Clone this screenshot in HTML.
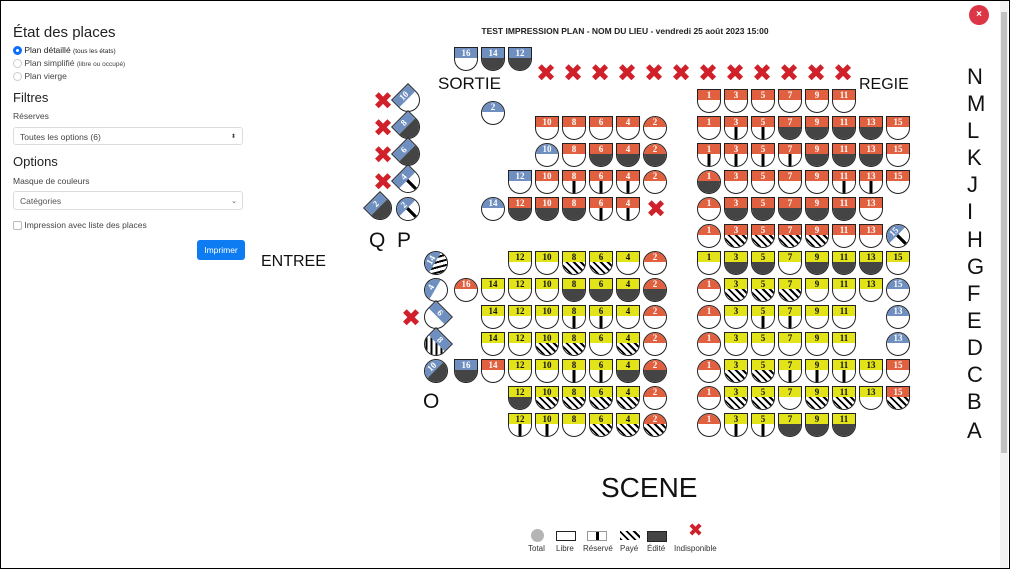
<!DOCTYPE html>
<html><head><meta charset="utf-8">
<style>
body{margin:0;width:1010px;height:569px;overflow:hidden;background:#fff;font-family:"Liberation Sans",sans-serif;position:relative}
#frame{position:absolute;left:0;top:0;width:1008px;height:567px;border:1px solid #000}
.a{position:absolute}
.seat{position:absolute;width:22px;height:22px;border:1.5px solid #222;border-radius:0 0 12px 12px;overflow:hidden;background:#fff;box-sizing:content-box}
.seat.c{border-radius:50%}
.band{position:absolute;left:0;top:0;width:100%;height:10px;color:#fff;font:bold 9px "Liberation Serif",serif;text-align:center;line-height:10px}
.low{position:absolute;left:0;top:10px;width:100%;height:12px}
.d{background:#444}
.h{background:repeating-linear-gradient(45deg,#000 0 2px,#fff 2px 5px)}
.v{background:linear-gradient(90deg,#fff 0 9.5px,#000 9.5px 12.5px,#fff 12.5px)}
.x{position:absolute;color:#d0202a;font:bold 24px "DejaVu Sans",sans-serif;line-height:24px}
.lbl{position:absolute;font-size:21px;color:#111}
.row{position:absolute;left:967px;font-size:22px;color:#111}
.side{position:absolute;left:13px;color:#222}
</style></head><body>
<div id="frame"></div>
<div class="side" style="top:24px;font-size:15px;font-weight:500">État des places</div>
<div class="side" style="top:45px;font-size:8.5px"><span style="display:inline-block;border-radius:50%;border:3px solid #0d6efd;background:#fff;vertical-align:middle;box-sizing:content-box;width:3px;height:3px"></span> Plan détaillé <span style="font-size:6.5px">(tous les états)</span></div>
<div class="side" style="top:58px;font-size:8.5px;color:#444"><span style="display:inline-block;width:7px;height:7px;border-radius:50%;border:1px solid #ccc;vertical-align:middle"></span> Plan simplifié <span style="font-size:6.5px">(libre ou occupé)</span></div>
<div class="side" style="top:71px;font-size:8.5px;color:#444"><span style="display:inline-block;width:7px;height:7px;border-radius:50%;border:1px solid #ccc;vertical-align:middle"></span> Plan vierge</div>
<div class="side" style="top:90px;font-size:13px;font-weight:500">Filtres</div>
<div class="side" style="top:111px;font-size:8.5px;color:#444">Réserves</div>
<div class="a" style="left:13px;top:127px;width:230px;height:18px;border:1px solid #dcdcdc;border-radius:3px;font-size:8.5px;color:#444;line-height:18px;padding-left:6px;box-sizing:border-box">Toutes les options (6)<span style="position:absolute;right:6px;font-size:6px">⬍</span></div>
<div class="side" style="top:154px;font-size:13px;font-weight:500">Options</div>
<div class="side" style="top:176px;font-size:8.5px;color:#444">Masque de couleurs</div>
<div class="a" style="left:13px;top:191px;width:230px;height:19px;border:1px solid #dcdcdc;border-radius:3px;font-size:8.5px;color:#555;line-height:19px;padding-left:6px;box-sizing:border-box">Catégories<span style="position:absolute;right:5px;font-size:7px">⌄</span></div>
<div class="side" style="top:220px;font-size:8.5px;color:#444"><span style="display:inline-block;width:7px;height:7px;border:1px solid #bbb;border-radius:2px;vertical-align:middle"></span> Impression avec liste des places</div>
<div class="a" style="left:197px;top:240px;width:48px;height:20px;background:#0d7bf2;border-radius:3px;color:#fff;font-size:8.5px;text-align:center;line-height:20px">Imprimer</div>

<div class="a" style="left:470px;top:26px;width:310px;text-align:center;font-size:8.5px;font-weight:bold;color:#222">TEST IMPRESSION PLAN - NOM DU LIEU - vendredi 25 août 2023 15:00</div>
<div class="a" style="left:969px;top:5px;width:20px;height:20px;border-radius:50%;background:#dc3545;color:#fff;font-size:10px;font-weight:bold;text-align:center;line-height:20px">×</div>
<div class="a" style="left:1000px;top:1px;width:8px;height:567px;background:#f1f1f1"></div>
<div class="a" style="left:1001px;top:12px;width:6px;height:441px;background:#c1c1c1"></div>

<div class="lbl" style="left:438px;top:74px;font-size:17px">SORTIE</div>
<div class="lbl" style="left:859px;top:76px;font-size:16px">REGIE</div>
<div class="lbl" style="left:261px;top:253px;font-size:16px">ENTREE</div>
<div class="lbl" style="left:369px;top:229px;font-size:21px">Q</div>
<div class="lbl" style="left:397px;top:229px;font-size:21px">P</div>
<div class="lbl" style="left:423px;top:390px;font-size:21px">O</div>
<div class="lbl" style="left:601px;top:472px;font-size:28px">SCENE</div>
<div id="rows"></div>
<div id="seats"></div>

<div class="a" style="left:531px;top:529px;width:13px;height:13px;border-radius:50%;background:#b5b5b5"></div>
<div class="a" style="left:556px;top:531px;width:18px;height:8px;border:1.5px solid #222"></div>
<div class="a" style="left:587px;top:531px;width:18px;height:8px;border:1px solid #999;background:linear-gradient(90deg,#fff 0 8px,#000 8px 11px,#fff 11px)"></div>
<div class="a" style="left:620px;top:531px;width:20px;height:9px;background:repeating-linear-gradient(45deg,#000 0 2px,#fff 2px 5px)"></div>
<div class="a" style="left:647px;top:531px;width:18px;height:9px;background:#444;border:1px solid #222"></div>
<div class="x" style="left:688px;top:522px;font-size:18px;line-height:18px">✖</div>
<div class="a" style="top:544px;left:528px;font-size:8px;color:#333">Total</div>
<div class="a" style="top:544px;left:556px;font-size:8px;color:#333">Libre</div>
<div class="a" style="top:544px;left:583px;font-size:8px;color:#333">Réservé</div>
<div class="a" style="top:544px;left:620px;font-size:8px;color:#333">Payé</div>
<div class="a" style="top:544px;left:647px;font-size:8px;color:#333">Édité</div>
<div class="a" style="top:544px;left:674px;font-size:8px;color:#333">Indisponible</div>

<script>
var S=document.getElementById('seats'),h='';
var col={r:'#e0603f',y:'#e3e31a',b:'#6e8fbf'};
function seat(x,y,shape,c,f,l,rot){
 var tc=c=='y'?'#111':'#fff';
 h+='<div class="seat'+(shape=='c'?' c':'')+'" style="left:'+x+'px;top:'+y+'px;'+(rot?'transform:rotate('+rot+'deg);':'')+'"><div class="band" style="background:'+col[c]+';color:'+tc+'">'+l+'</div><div class="low '+(f=='w'?'':f)+'"></div></div>';
}
function X(x,y){h+='<div class="x" style="left:'+(x-9)+'px;top:'+(y-12)+'px">✖</div>';}
var R=[697,724,751,778,805,832,859,886];
function ty(i){return 89+27*i}
function rr(i,spec){
 spec.split(' ').forEach(function(s,k){ if(s=='-')return; seat(R[k],ty(i),s[0],s[1],s[2],2*k+1);});
}
rr(0,'srw srw srw srw srw srw');
rr(1,'srw srv srv srd srd srd srd srw');
rr(2,'srv srv srv srv srd srd srd srw');
rr(3,'crd srw srw srw srw srv srv srw');
rr(4,'crw srd srd srd srd srd srw');
rr(5,'crw srh srh srh srh srw srw');
seat(886,ty(5),'c','b','v',15,-45);
rr(6,'syw syd syd syw syd syd syd syw');
rr(7,'crw syh syh syh syw syw syw');
seat(886,ty(7),'c','b','w',15);
rr(8,'crw syw syv syv syw syw');
seat(886,ty(8),'c','b','w',13);
rr(9,'crw syw syw syw syw syw');
seat(886,ty(9),'c','b','w',13);
rr(10,'crw syh syh syv syv syv syw srw');
rr(11,'crw syh syh syw syh syh syw srh');
rr(12,'crw syv syv syd syd syd');
var L={16:454,14:481,12:508,10:535,8:562,6:589,4:616,2:643};
function lr(i,spec){spec.split(' ').forEach(function(s){var p=s.split(':');seat(L[p[0]],ty(i),p[1][0],p[1][1],p[1][2],p[0]);});}
seat(454,47,'s','b','w',16);seat(481,47,'s','b','d',14);seat(508,47,'s','b','d',12);
for(var k=0;k<12;k++)X(545+27*k,73);
seat(481,101,'c','b','w',2);
lr(1,'10:srw 8:srw 6:srw 4:srw 2:crw');
lr(2,'10:cbw 8:srw 6:srd 4:srd 2:crd');
lr(3,'12:sbw 10:srw 8:srv 6:srv 4:srv 2:crw');
lr(4,'14:cbw 12:srd 10:srd 8:srd 6:srv 4:srv');X(655,209);
lr(6,'12:syw 10:syw 8:syh 6:syh 4:syw 2:crw');
lr(7,'16:crw 14:syw 12:syw 10:syw 8:syd 6:syd 4:syd 2:crd');
lr(8,'14:syw 12:syw 10:syw 8:syv 6:syv 4:syw 2:crw');
lr(9,'14:syw 12:syw 10:syh 8:syh 6:syw 4:syh 2:crw');
lr(10,'16:sbd 14:srw 12:syw 10:syw 8:syv 6:syv 4:syd 2:crd');
lr(11,'12:syd 10:syh 8:syh 6:syh 4:syh 2:crw');
lr(12,'12:syv 10:syv 8:syw 6:syh 4:syh 2:crh');
seat(424,ty(6),'c','b','h',14,-60);
seat(424,ty(7),'c','b','w',4,-60);
seat(424,ty(8),'s','b','w',6,45);X(410,318);
seat(424,ty(9),'s','b','h',8,45);
seat(424,ty(10),'c','b','d',10,-45);
for(var i=0;i<4;i++){X(382,101+27*i);}
seat(396,88,'s','b','w',10,-45);
seat(396,115,'s','b','d',8,-45);
seat(396,142,'s','b','d',6,-45);
seat(396,169,'s','b','v',4,-45);
seat(396,197,'c','b','v',2,-45);
seat(368,196,'s','b','d',2,-45);
S.innerHTML=h;
var rl='NMLKJIHGFEDCBA',ry=[64,91,118,145,172,199,227,254,281,308,335,362,389,418],rh='';
for(var i=0;i<14;i++)rh+='<div class="row" style="top:'+ry[i]+'px">'+rl[i]+'</div>';
document.getElementById('rows').innerHTML=rh;
</script>
</body></html>
